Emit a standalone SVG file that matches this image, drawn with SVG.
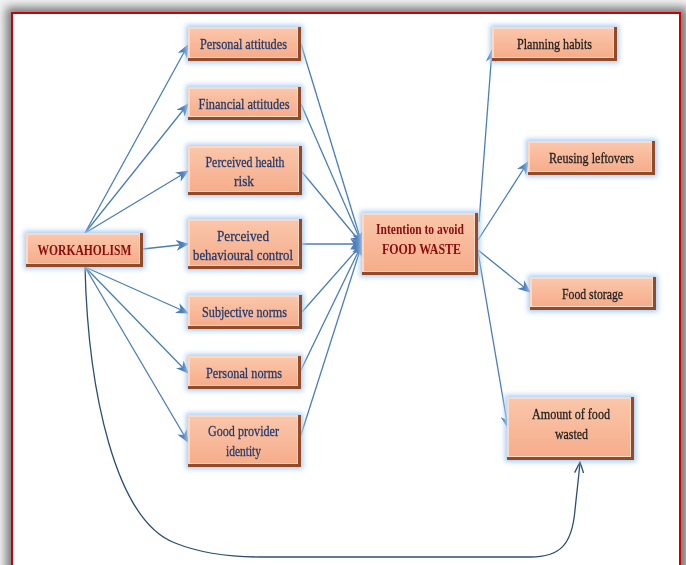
<svg xmlns="http://www.w3.org/2000/svg" width="686" height="565" viewBox="0 0 686 565">
<defs>
<style>
.edge{fill:#8f4c2a}
.hl{fill:#fcd9c6}
.face{fill:url(#faceg)}
text{font-family:"Liberation Serif","Times New Roman",serif;font-size:15.5px;text-anchor:middle;stroke-width:0.3}
.bl{fill:#233a6c;stroke:#233a6c}
.rd{fill:#8b0c0c;font-weight:bold;font-size:15px;stroke-width:0}
.bk{fill:#1e1e1e;stroke:#1e1e1e}
.con{fill:none;stroke:#4a7ebb;stroke-width:1.3;marker-end:url(#ah)}
.curve{fill:none;stroke:#2c4d75;stroke-width:1.3;marker-end:url(#ah2)}
</style>
<linearGradient id="faceg" x1="0" y1="0" x2="0" y2="1">
<stop offset="0" stop-color="#fac6aa"/>
<stop offset="1" stop-color="#f6ad8b"/>
</linearGradient>
<filter id="glow" x="-20%" y="-40%" width="140%" height="180%">
<feMorphology in="SourceAlpha" operator="dilate" radius="2" result="d"/>
<feGaussianBlur in="d" stdDeviation="2.5" result="b"/>
<feFlood flood-color="#a9cdf2"/>
<feComposite in2="b" operator="in" result="g"/>
<feMerge><feMergeNode in="g"/><feMergeNode in="SourceGraphic"/></feMerge>
</filter>
<filter id="fshadow" x="-5%" y="-5%" width="110%" height="110%">
<feGaussianBlur stdDeviation="5"/>
</filter>
<marker id="ah" viewBox="0 0 12 10" refX="11" refY="5" markerWidth="13" markerHeight="11" markerUnits="userSpaceOnUse" orient="auto">
<path d="M0,0 L12,5 L0,10 L3.5,5 z" fill="#4a7ebb"/>
</marker>
<marker id="ah2" viewBox="0 0 12 10" refX="11" refY="5" markerWidth="12" markerHeight="10" markerUnits="userSpaceOnUse" orient="auto">
<path d="M0,0.5 L11,5 L0,9.5" fill="none" stroke="#2c4d75" stroke-width="1.3"/>
</marker>
</defs>
<rect x="0" y="0" width="686" height="565" fill="#f2f2f2"/>
<rect x="6" y="7" width="682" height="580" fill="#7a7a7a" filter="url(#fshadow)"/>
<rect x="12" y="13" width="668" height="570" fill="#ffffff" stroke="#cc0000" stroke-width="2"/>

<g id="connectors">
<path class="con" d="M85,233 L188,45"/>
<path class="con" d="M85,233 L188,104"/>
<path class="con" d="M85,233 L188,171"/>
<path class="con" d="M143,249 L188,244"/>
<path class="con" d="M85,267 L188,313"/>
<path class="con" d="M85,267 L188,373"/>
<path class="con" d="M85,267 L188,442"/>
<path class="con" d="M301,44 L362,244"/>
<path class="con" d="M301,104 L362,244"/>
<path class="con" d="M302,172 L362,244"/>
<path class="con" d="M302,244 L362,244"/>
<path class="con" d="M302,312 L362,244"/>
<path class="con" d="M300,372 L362,244"/>
<path class="con" d="M300,438 L362,244"/>
<path class="con" d="M479,222 L492,50"/>
<path class="con" d="M478,240 L528,162"/>
<path class="con" d="M478,250 L530,292"/>
<path class="con" d="M478,252 L508,428"/>
<path class="curve" d="M85,267 C88,390 115,520 175,543 C200,553 225,557 260,557 L530,557 C560,557 572,545 575,510 C577,490 579,475 580,462"/>
</g>

<g id="workaholism" filter="url(#glow)">
<rect class="edge" x="26" y="233" width="117" height="34"/>
<rect class="hl" x="26" y="233" width="114" height="31"/>
<rect class="face" x="28" y="235" width="111" height="28"/>
<text class="rd" x="84.5" y="255" textLength="94" lengthAdjust="spacingAndGlyphs">WORKAHOLISM</text>
</g>

<g id="personal-attitudes" filter="url(#glow)">
<rect class="edge" x="188" y="27" width="113" height="34"/>
<rect class="hl" x="188" y="27" width="110" height="31"/>
<rect class="face" x="190" y="29" width="107" height="28"/>
<text class="bl" x="243.5" y="48.5" textLength="87" lengthAdjust="spacingAndGlyphs">Personal attitudes</text>
</g>

<g id="financial-attitudes" filter="url(#glow)">
<rect class="edge" x="188" y="87" width="113" height="33"/>
<rect class="hl" x="188" y="87" width="110" height="30"/>
<rect class="face" x="190" y="89" width="107" height="27"/>
<text class="bl" x="244" y="108.5" textLength="91" lengthAdjust="spacingAndGlyphs">Financial attitudes</text>
</g>

<g id="perceived-health-risk" filter="url(#glow)">
<rect class="edge" x="188" y="146" width="114" height="49"/>
<rect class="hl" x="188" y="146" width="111" height="46"/>
<rect class="face" x="190" y="148" width="108" height="43"/>
<text class="bl" x="245" y="166.5" textLength="79" lengthAdjust="spacingAndGlyphs">Perceived health</text>
<text class="bl" x="244" y="186" textLength="20" lengthAdjust="spacingAndGlyphs">risk</text>
</g>

<g id="perceived-behavioural-control" filter="url(#glow)">
<rect class="edge" x="188" y="219" width="114" height="50"/>
<rect class="hl" x="188" y="219" width="111" height="47"/>
<rect class="face" x="190" y="221" width="108" height="44"/>
<text class="bl" x="243" y="240.5" textLength="52" lengthAdjust="spacingAndGlyphs">Perceived</text>
<text class="bl" x="243" y="260" textLength="100" lengthAdjust="spacingAndGlyphs">behavioural control</text>
</g>

<g id="subjective-norms" filter="url(#glow)">
<rect class="edge" x="188" y="295" width="114" height="34"/>
<rect class="hl" x="188" y="295" width="111" height="31"/>
<rect class="face" x="190" y="297" width="108" height="28"/>
<text class="bl" x="244.5" y="317" textLength="85" lengthAdjust="spacingAndGlyphs">Subjective norms</text>
</g>

<g id="personal-norms" filter="url(#glow)">
<rect class="edge" x="188" y="356" width="113" height="33"/>
<rect class="hl" x="188" y="356" width="110" height="30"/>
<rect class="face" x="190" y="358" width="107" height="27"/>
<text class="bl" x="244" y="377.5" textLength="76" lengthAdjust="spacingAndGlyphs">Personal norms</text>
</g>

<g id="good-provider-identity" filter="url(#glow)">
<rect class="edge" x="188" y="415" width="113" height="52"/>
<rect class="hl" x="188" y="415" width="110" height="49"/>
<rect class="face" x="190" y="417" width="107" height="46"/>
<text class="bl" x="243.5" y="436" textLength="71" lengthAdjust="spacingAndGlyphs">Good provider</text>
<text class="bl" x="243.5" y="456" textLength="35" lengthAdjust="spacingAndGlyphs">identity</text>
</g>

<g id="intention" filter="url(#glow)">
<rect class="edge" x="362" y="213" width="116" height="62"/>
<rect class="hl" x="362" y="213" width="113" height="59"/>
<rect class="face" x="364" y="215" width="110" height="56"/>
<text class="rd" x="420" y="234" textLength="88" lengthAdjust="spacingAndGlyphs">Intention to avoid</text>
<text class="rd" x="421.5" y="254" textLength="79" lengthAdjust="spacingAndGlyphs">FOOD WASTE</text>
</g>

<g id="planning-habits" filter="url(#glow)">
<rect class="edge" x="492" y="27" width="125" height="34"/>
<rect class="hl" x="492" y="27" width="122" height="31"/>
<rect class="face" x="494" y="29" width="119" height="28"/>
<text class="bk" x="554.5" y="49" textLength="75" lengthAdjust="spacingAndGlyphs">Planning habits</text>
</g>

<g id="reusing-leftovers" filter="url(#glow)">
<rect class="edge" x="528" y="141" width="127" height="34"/>
<rect class="hl" x="528" y="141" width="124" height="31"/>
<rect class="face" x="530" y="143" width="121" height="28"/>
<text class="bk" x="591.5" y="163" textLength="85" lengthAdjust="spacingAndGlyphs">Reusing leftovers</text>
</g>

<g id="food-storage" filter="url(#glow)">
<rect class="edge" x="530" y="277" width="126" height="33"/>
<rect class="hl" x="530" y="277" width="123" height="30"/>
<rect class="face" x="532" y="279" width="120" height="27"/>
<text class="bk" x="592.5" y="298.5" textLength="61" lengthAdjust="spacingAndGlyphs">Food storage</text>
</g>

<g id="amount-of-food-wasted" filter="url(#glow)">
<rect class="edge" x="507" y="397" width="127" height="63"/>
<rect class="hl" x="507" y="397" width="124" height="60"/>
<rect class="face" x="509" y="399" width="121" height="57"/>
<text class="bk" x="571" y="418.5" textLength="78" lengthAdjust="spacingAndGlyphs">Amount of food</text>
<text class="bk" x="571.5" y="438.5" textLength="33" lengthAdjust="spacingAndGlyphs">wasted</text>
</g>
</svg>
